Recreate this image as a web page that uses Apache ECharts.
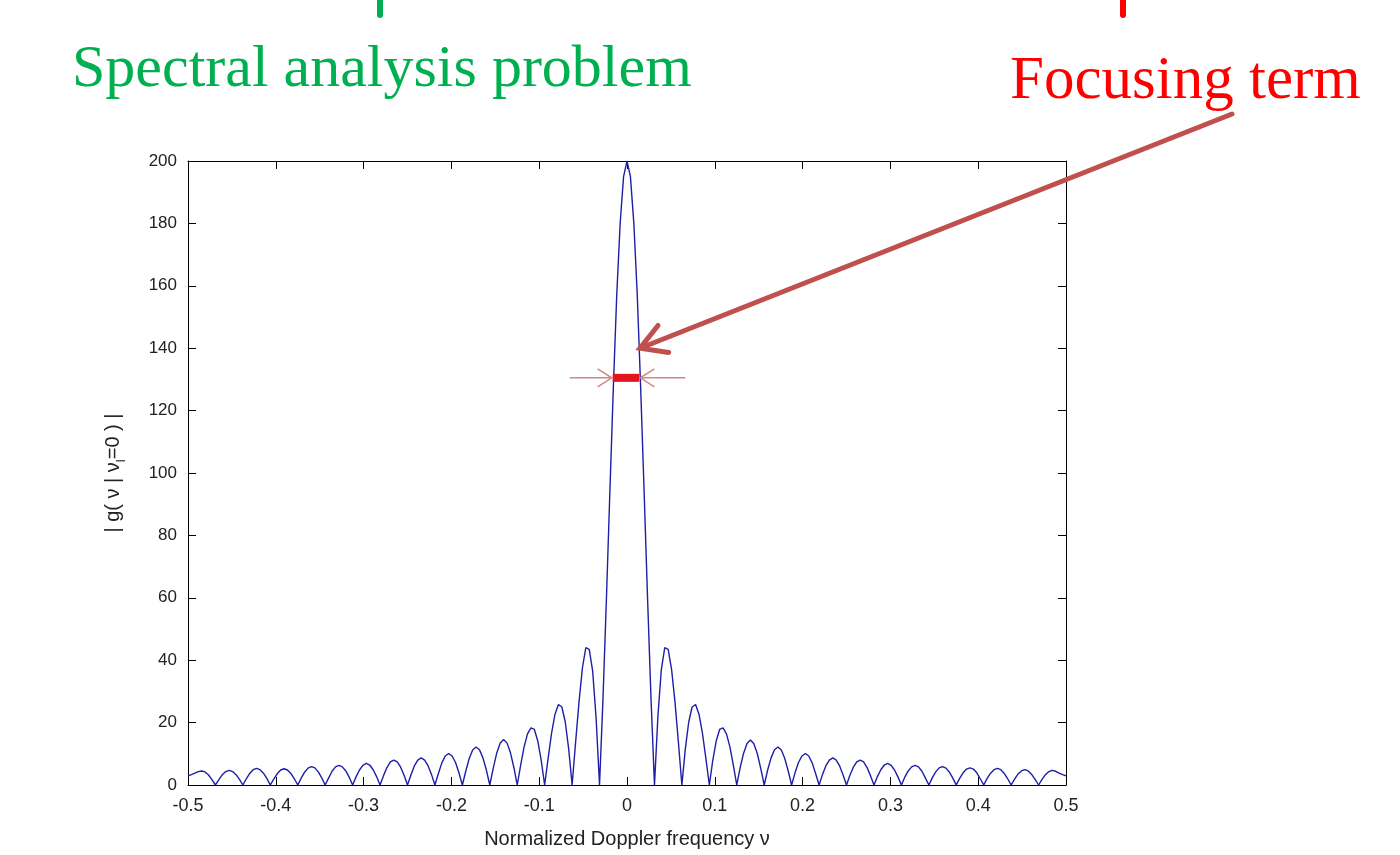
<!DOCTYPE html>
<html>
<head>
<meta charset="utf-8">
<script src="https://cdn.jsdelivr.net/npm/echarts@6/dist/echarts.min.js"></script>
<style>
  html, body { margin: 0; padding: 0; background: #fff; }
  #chart { width: 1400px; height: 855px; }
</style>
</head>
<body>
<div id="chart"></div>
<script>
// |v| sample grid (same grid on both sides of 0)
const freqAbs = [
  0, 0.0039, 0.0078, 0.0117, 0.0156, 0.0195, 0.0234, 0.0273,
  0.0313, 0.0352, 0.0391, 0.043, 0.0469, 0.0508, 0.0547, 0.0586,
  0.0625, 0.0664, 0.0703, 0.0742, 0.0781, 0.082, 0.0859, 0.0898,
  0.0938, 0.0977, 0.1016, 0.1055, 0.1094, 0.1133, 0.1172, 0.1211,
  0.125, 0.1289, 0.1328, 0.1367, 0.1406, 0.1445, 0.1484, 0.1523,
  0.1563, 0.1602, 0.1641, 0.168, 0.1719, 0.1758, 0.1797, 0.1836,
  0.1875, 0.1914, 0.1953, 0.1992, 0.2031, 0.207, 0.2109, 0.2148,
  0.2188, 0.2227, 0.2266, 0.2305, 0.2344, 0.2383, 0.2422, 0.2461,
  0.25, 0.2539, 0.2578, 0.2617, 0.2656, 0.2695, 0.2734, 0.2773,
  0.2813, 0.2852, 0.2891, 0.293, 0.2969, 0.3008, 0.3047, 0.3086,
  0.3125, 0.3164, 0.3203, 0.3242, 0.3281, 0.332, 0.3359, 0.3398,
  0.3438, 0.3477, 0.3516, 0.3555, 0.3594, 0.3633, 0.3672, 0.3711,
  0.375, 0.3789, 0.3828, 0.3867, 0.3906, 0.3945, 0.3984, 0.4023,
  0.4063, 0.4102, 0.4141, 0.418, 0.4219, 0.4258, 0.4297, 0.4336,
  0.4375, 0.4414, 0.4453, 0.4492, 0.4531, 0.457, 0.4609, 0.4648,
  0.4688, 0.4727, 0.4766, 0.4805, 0.4844, 0.4883, 0.4922, 0.4961,
  0.5
]

// |g(v | v_l=0)| for v >= 0, one entry per freqAbs
const gainPos = [
  200, 195, 180, 157, 127, 94, 60, 28,
  0, 22, 37, 44, 43.5, 37, 26.5, 13.5,
  0, 11.5, 20.2, 25, 25.8, 22.7, 16.6, 8.6,
  0, 7.9, 14.1, 17.8, 18.3, 16.4, 12.2, 6.4,
  0, 5.6, 10.2, 13.3, 14.4, 13.2, 10.1, 5.3,
  0, 4.8, 8.7, 11.3, 12.2, 11.2, 8.5, 4.5,
  0, 3.9, 7.2, 9.3, 10.1, 9.3, 7.1, 3.7,
  0, 3.4, 6.2, 8.0, 8.7, 8.0, 6.1, 3.2,
  0, 3.1, 5.7, 7.4, 8.0, 7.4, 5.6, 3.0,
  0, 2.7, 4.9, 6.4, 6.9, 6.3, 4.8, 2.6,
  0, 2.5, 4.5, 5.8, 6.3, 5.8, 4.4, 2.3,
  0, 2.3, 4.2, 5.5, 5.9, 5.4, 4.1, 2.2,
  0, 2.1, 3.9, 5.1, 5.5, 5.1, 3.9, 2.0,
  0, 2.1, 3.8, 4.9, 5.3, 4.9, 3.7, 2.0,
  0, 1.9, 3.5, 4.5, 4.9, 4.5, 3.4, 1.8,
  0, 1.8, 3.3, 4.3, 4.7, 4.4, 3.8, 3.3,
  2.9
]

// |g(v | v_l=0)| for v <= 0, indexed by |v| (freqAbs)
const gainNeg = [
  200, 195, 180, 157, 127, 94, 60, 28,
  0, 21.5, 36.5, 43.5, 44, 37.5, 26.5, 13.5,
  0, 11.5, 20.2, 25, 25.8, 22.7, 16.6, 8.6,
  0, 7.9, 14.1, 17.8, 18.3, 16.4, 12.2, 6.4,
  0, 5.7, 10.4, 13.5, 14.6, 13.4, 10.2, 5.4,
  0, 4.8, 8.7, 11.3, 12.2, 11.2, 8.5, 4.5,
  0, 3.9, 7.2, 9.3, 10.1, 9.3, 7.1, 3.7,
  0, 3.4, 6.2, 8.0, 8.7, 8.0, 6.1, 3.2,
  0, 3.1, 5.7, 7.4, 8.0, 7.4, 5.6, 3.0,
  0, 2.7, 4.9, 6.4, 6.9, 6.3, 4.8, 2.6,
  0, 2.5, 4.5, 5.8, 6.3, 5.8, 4.4, 2.3,
  0, 2.3, 4.2, 5.5, 5.9, 5.4, 4.1, 2.2,
  0, 2.0, 3.7, 4.8, 5.2, 4.8, 3.6, 1.9,
  0, 2.1, 3.8, 4.9, 5.3, 4.9, 3.7, 2.0,
  0, 1.8, 3.3, 4.3, 4.7, 4.3, 3.3, 1.7,
  0, 1.7, 3.2, 4.2, 4.5, 4.3, 3.8, 3.3,
  2.9
]

// main lobe width marker (red bar) and the point the big arrow touches
const widthBar = [[-0.0163, 130.5], [0.0141, 130.5]]
const arrowTip = [0.0148, 140]

const xTicks = { min: -0.5, max: 0.5, interval: 0.1 }
const yTicks = { min: 0, max: 200, interval: 20 }

const axisFont = 'Liberation Sans'
const axisLineStyle = { color: '#000', width: 1 }

function axisX (position, showLabel) {
  return {
    type: 'value',
    position: position,
    min: xTicks.min,
    max: xTicks.max,
    interval: xTicks.interval,
    axisLine: { show: true, onZero: false, lineStyle: axisLineStyle },
    axisTick: { show: true, inside: true, length: 8, lineStyle: axisLineStyle },
    splitLine: { show: false },
    axisLabel: {
      show: showLabel,
      color: '#222',
      fontFamily: axisFont,
      fontSize: 18,
      margin: 12
    }
  }
}

function axisY (position, showLabel) {
  return {
    type: 'value',
    position: position,
    min: yTicks.min,
    max: yTicks.max,
    interval: yTicks.interval,
    axisLine: { show: true, onZero: false, lineStyle: axisLineStyle },
    axisTick: { show: true, inside: true, length: 8, lineStyle: axisLineStyle },
    splitLine: { show: false },
    axisLabel: {
      show: showLabel,
      color: '#222',
      fontFamily: axisFont,
      fontSize: 17,
      margin: 11
    }
  }
}

// negative side from -0.5 up to 0, then positive side from 0 to 0.5
const curve = []
for (let i = freqAbs.length - 1; i > 0; i--) curve.push([-freqAbs[i], gainNeg[i]])
for (let i = 0; i < freqAbs.length; i++) curve.push([freqAbs[i], gainPos[i]])

const chart = echarts.init(document.getElementById('chart'), null, { renderer: 'canvas' })

const xBottom = axisX('bottom', true)
xBottom.name = 'Normalized Doppler frequency ν'
xBottom.nameLocation = 'middle'
xBottom.nameGap = 44
xBottom.nameTextStyle = { color: '#222', fontFamily: axisFont, fontSize: 20 }

const yLeft = axisY('left', true)
yLeft.name = '| g( ν | ν{s|l}=0 ) |'
yLeft.nameLocation = 'middle'
yLeft.nameRotate = 90
yLeft.nameGap = 60
yLeft.nameTextStyle = {
  color: '#222',
  fontFamily: axisFont,
  fontSize: 20,
  rich: {
    s: { fontSize: 13, fontFamily: axisFont, color: '#222', verticalAlign: 'bottom', lineHeight: 30 }
  }
}

const option = {
  animation: false,
  backgroundColor: '#fff',
  grid: { left: 188, right: 334, top: 161, bottom: 70 },
  xAxis: [xBottom, axisX('top', false)],
  yAxis: [yLeft, axisY('right', false)],
  series: [{
    name: 'gain',
    type: 'line',
    data: curve,
    showSymbol: false,
    symbol: 'none',
    lineStyle: { color: '#1e1ea6', width: 1.4 },
    z: 3
  }, {
    name: 'width',
    type: 'line',
    data: widthBar,
    showSymbol: false,
    symbol: 'none',
    lineStyle: { color: '#e3161c', width: 8, cap: 'butt' },
    z: 4
  }]
}
chart.setOption(option)

// annotations: titles, bars at the top, arrows
const green = '#00b050'
const arrowRed = '#c0504d'
const tip = chart.convertToPixel({ gridIndex: 0 }, arrowTip)
const barL = chart.convertToPixel({ gridIndex: 0 }, widthBar[0])
const barR = chart.convertToPixel({ gridIndex: 0 }, widthBar[1])

// big arrow head (open chevron)
const tail = [1232, 114]
const dx = tail[0] - tip[0]
const dy = tail[1] - tip[1]
const len = Math.sqrt(dx * dx + dy * dy)
const ux = dx / len
const uy = dy / len
const a = Math.PI / 6
const headLen = 29
const arm1 = [tip[0] + headLen * (ux * Math.cos(a) - uy * Math.sin(a)), tip[1] + headLen * (ux * Math.sin(a) + uy * Math.cos(a))]
const arm2 = [tip[0] + headLen * (ux * Math.cos(-a) - uy * Math.sin(-a)), tip[1] + headLen * (ux * Math.sin(-a) + uy * Math.cos(-a))]

const thin = { stroke: '#cc8a87', lineWidth: 1.5, fill: null }
const by = barL[1]

chart.setOption({
  graphic: [
    {
      type: 'text', left: 72, top: 40,
      style: { text: 'Spectral analysis problem', fill: green, font: '60px "Liberation Serif"' }
    },
    {
      type: 'text', left: 1010, top: 51,
      style: { text: 'Focusing term', fill: '#ff0000', font: '61px "Liberation Serif"' }
    },
    {
      type: 'rect', shape: { x: 377, y: -4, width: 6, height: 22, r: 3 },
      style: { fill: green }
    },
    {
      type: 'rect', shape: { x: 1120, y: -4, width: 6, height: 22, r: 3 },
      style: { fill: '#ff0000' }
    },
    {
      type: 'line', shape: { x1: tail[0], y1: tail[1], x2: tip[0] + ux * 4, y2: tip[1] + uy * 4 },
      style: { stroke: arrowRed, lineWidth: 5, lineCap: 'round' }, z: 10
    },
    {
      type: 'polyline', shape: { points: [arm1, tip, arm2] },
      style: { stroke: arrowRed, lineWidth: 5, lineJoin: 'miter', lineCap: 'round', fill: null }, z: 10
    },
    // width marker arrows
    {
      type: 'line', shape: { x1: barL[0] - 43, y1: by, x2: barL[0] - 1, y2: by },
      style: thin, z: 10
    },
    {
      type: 'polyline', shape: { points: [[barL[0] - 15, by - 9], [barL[0] - 1, by], [barL[0] - 15, by + 9]] },
      style: thin, z: 10
    },
    {
      type: 'line', shape: { x1: barR[0] + 46, y1: by, x2: barR[0] + 1, y2: by },
      style: thin, z: 10
    },
    {
      type: 'polyline', shape: { points: [[barR[0] + 15, by - 9], [barR[0] + 1, by], [barR[0] + 15, by + 9]] },
      style: thin, z: 10
    }
  ]
})
</script>
</body>
</html>
